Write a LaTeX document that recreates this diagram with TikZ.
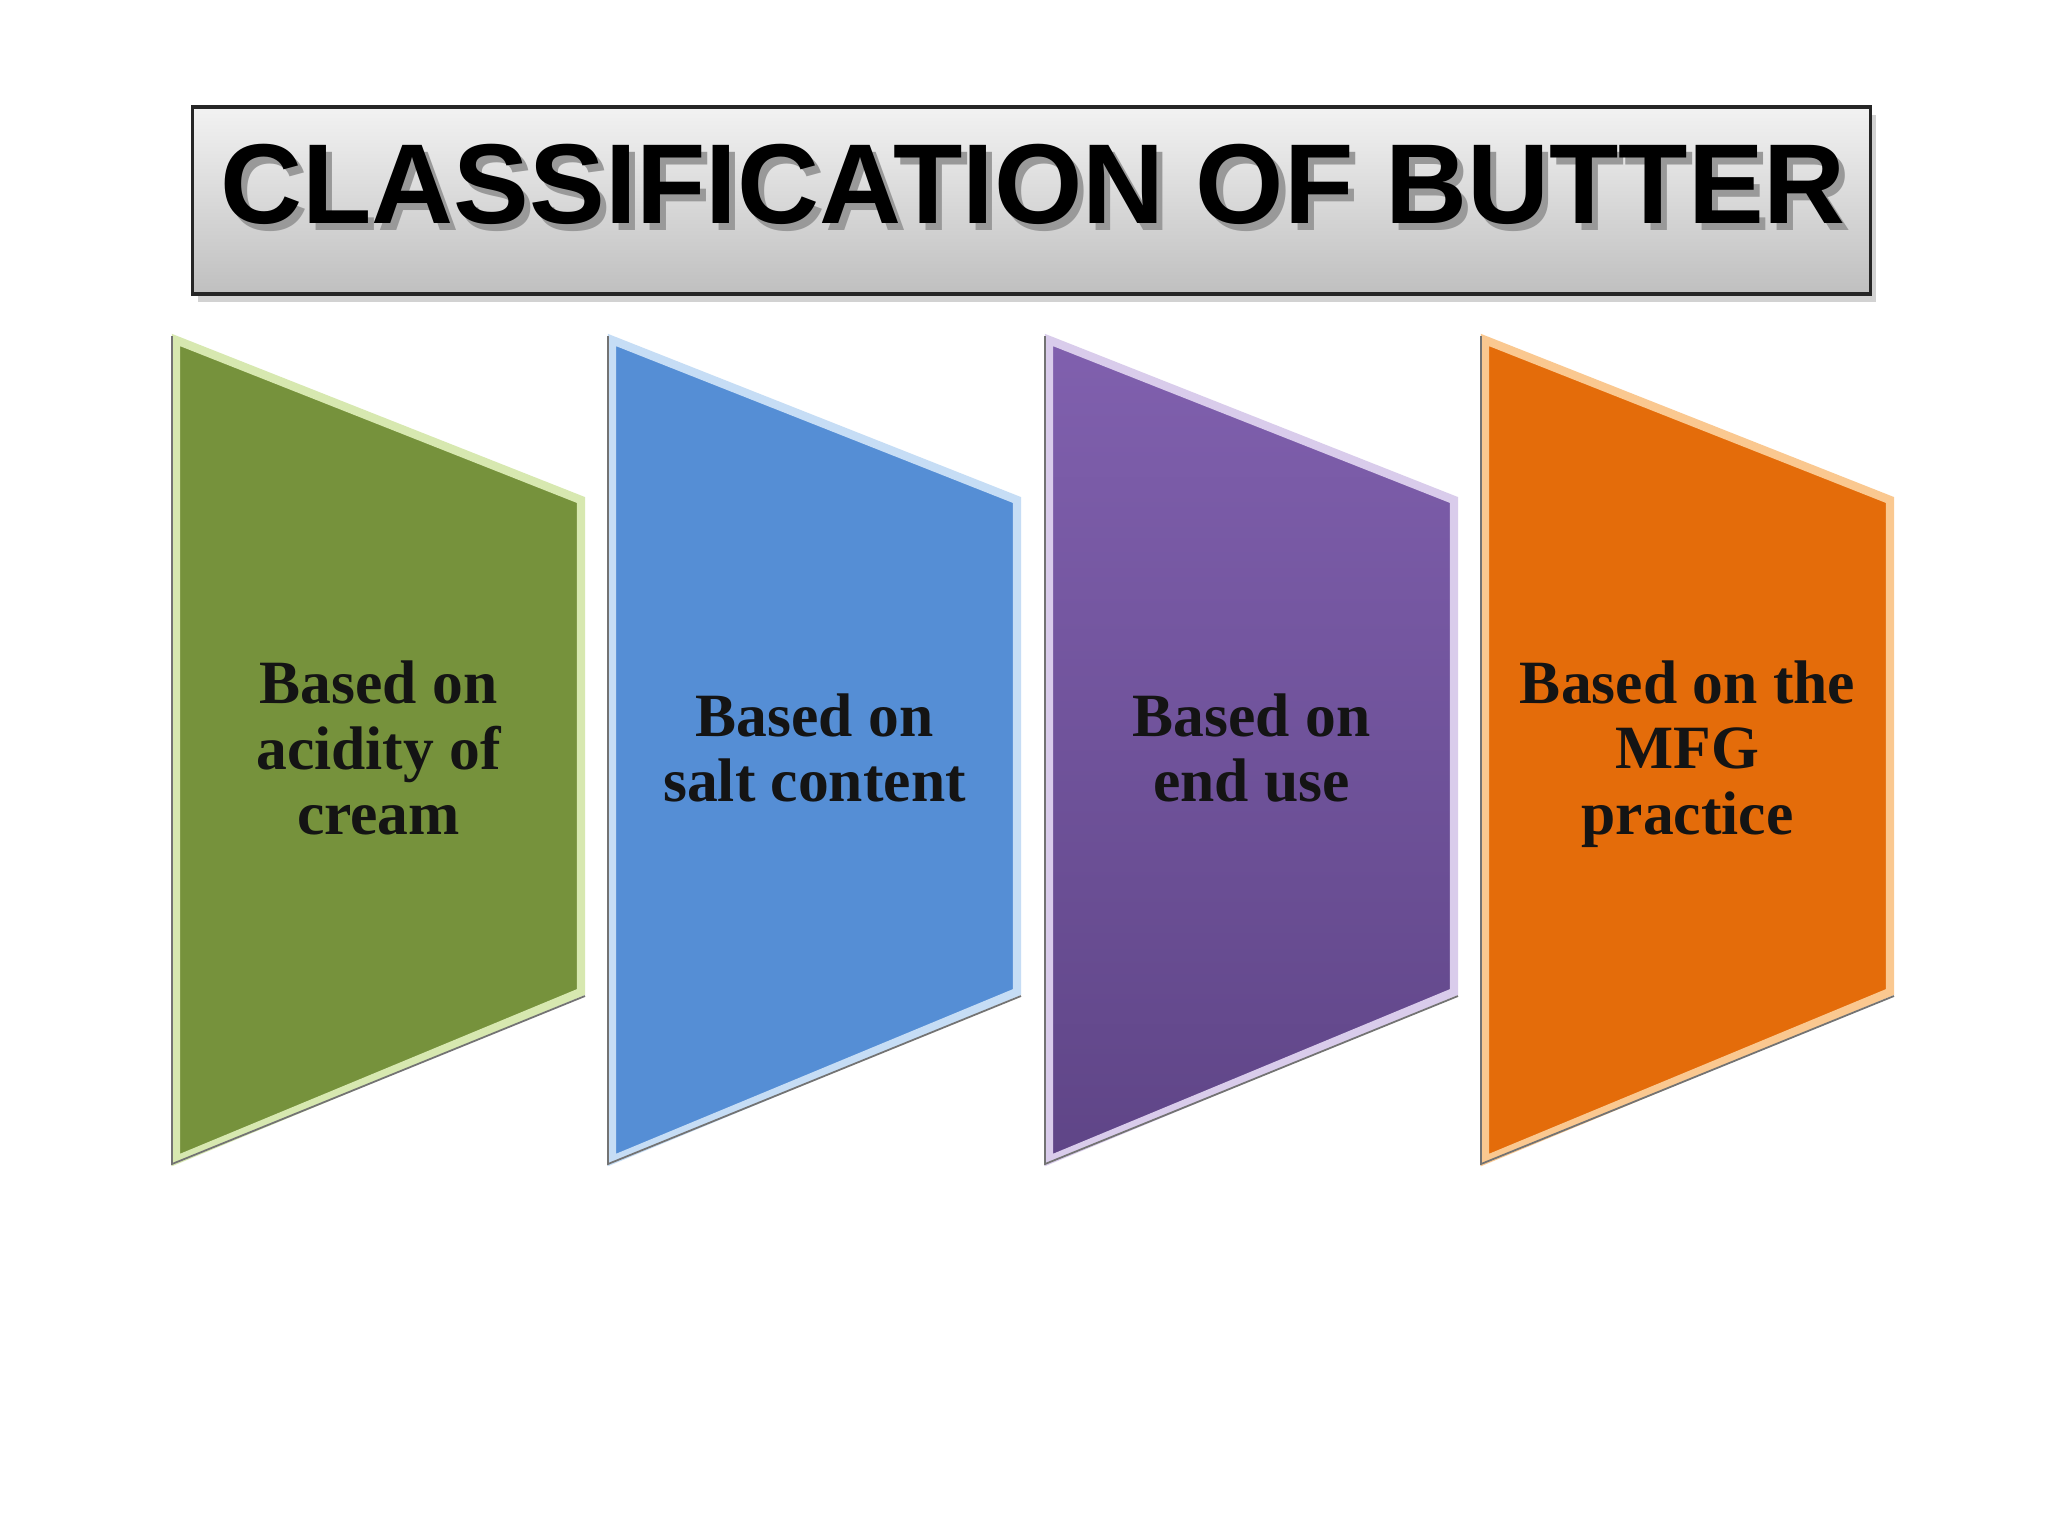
\documentclass[tikz,border=0pt]{standalone}
\usepackage{fontspec}
\setmainfont{Liberation Serif}
\setsansfont{Liberation Sans}
\usetikzlibrary{shadows}

\definecolor{oliveFill}{HTML}{76923C}
\definecolor{oliveEdge}{HTML}{D7E8B0}
\definecolor{skyFill}{HTML}{558ED5}
\definecolor{skyEdge}{HTML}{C6DDF5}
\definecolor{plumTop}{HTML}{8060AE}
\definecolor{plumBot}{HTML}{5F4587}
\definecolor{plumEdge}{HTML}{D9CCEB}
\definecolor{amberFill}{HTML}{E46C0A}
\definecolor{amberEdge}{HTML}{FAC890}

% heading text with its soft shadow behind it
\newcommand{\shadowed}[1]{%
  \rlap{\hspace{0.6mm}\raisebox{-0.7mm}{\textcolor{black!40}{#1}}}#1}

\tikzset{%
  % Specifications for style of the panels:
       panel/.style = {line width=2.4pt, line join=miter},
     rimline/.style = {draw=black!55, line width=0.5pt},
   paneltext/.style = {align=center, text=black!92,
                       font=\fontsize{17.5}{18.6}\selectfont\bfseries},
  % Specifications for the heading:
    titlebox/.style = {draw=black!85, line width=1pt,
                       top color=white!95!black, bottom color=black!25,
                       drop shadow={opacity=0.35, shadow xshift=0.5mm,
                       shadow yshift=-0.8mm}},
   titletext/.style = {font=\fontsize{32.3}{34}\selectfont\sffamily\bfseries},
}

\begin{document}
\begin{tikzpicture}[x=0.01cm, y=-0.01cm]

\useasboundingbox[fill=white] (0,0) rectangle (2048,1536);

% heading
\node (TB) [titlebox, minimum width=16.77cm, minimum height=1.87cm]
      at (1031.5,200.5) {};
\node (TT) [titletext] at (1033,188) {\shadowed{CLASSIFICATION OF BUTTER}};

% panel 1
\draw[panel, draw=oliveEdge, fill=oliveFill]
  (176,340) -- (581,500) -- (581,992) -- (176,1160) -- cycle;
\draw[rimline] (172,336) -- (172,1164) -- (585,996);
\node (AC) [paneltext] at (378.5,748) {Based on\\acidity of\\cream};

% panel 2
\draw[panel, draw=skyEdge, fill=skyFill]
  (612,340) -- (1017,500) -- (1017,992) -- (612,1160) -- cycle;
\draw[rimline] (608,336) -- (608,1164) -- (1021,996);
\node (SC) [paneltext] at (814.5,748) {Based on\\salt content};

% panel 3
\draw[panel, draw=plumEdge, top color=plumTop, bottom color=plumBot]
  (1049,340) -- (1454,500) -- (1454,992) -- (1049,1160) -- cycle;
\draw[rimline] (1045,336) -- (1045,1164) -- (1458,996);
\node (EU) [paneltext] at (1251.5,748) {Based on\\end use};

% panel 4
\draw[panel, draw=amberEdge, fill=amberFill]
  (1485,340) -- (1890,500) -- (1890,992) -- (1485,1160) -- cycle;
\draw[rimline] (1481,336) -- (1481,1164) -- (1894,996);
\node (MP) [paneltext] at (1687.5,754) {Based on the\\MFG\\practice};

\end{tikzpicture}
\end{document}
